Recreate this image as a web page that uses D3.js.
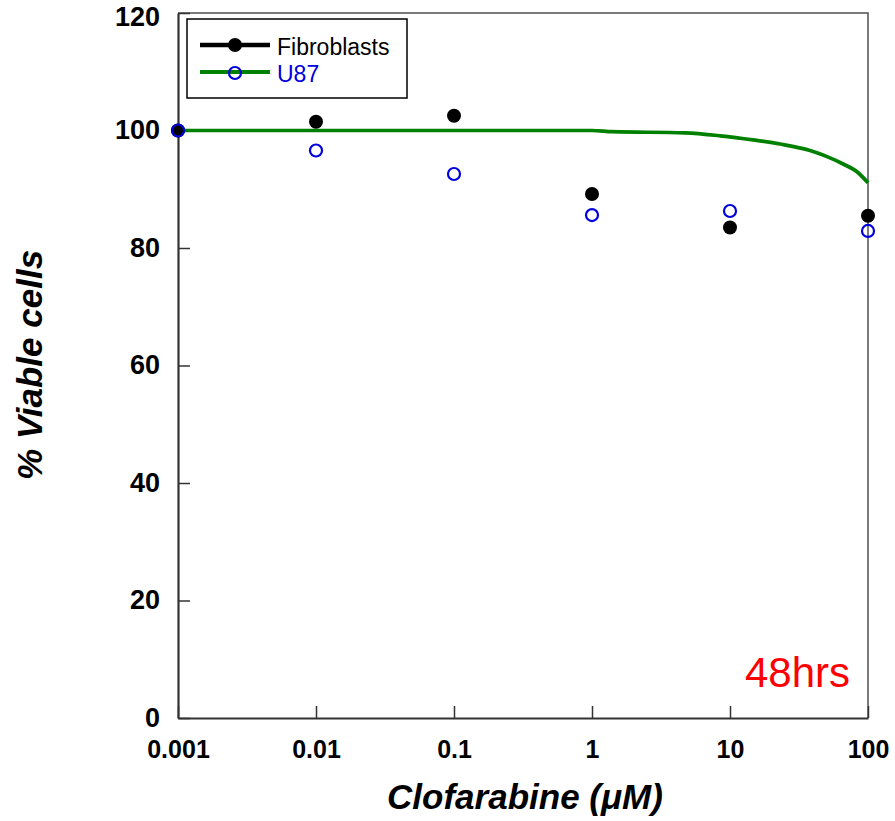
<!DOCTYPE html>
<html>
<head>
<meta charset="utf-8">
<script src="https://cdn.jsdelivr.net/npm/d3@7"></script>
<style>
  body { margin: 0; background: #fff; }
  text { font-family: "Liberation Sans", Arial, sans-serif; }
</style>
</head>
<body>
<div id="chart"></div>
<script>
// measured concentrations (uM) and % viable cells
const concentrations = [0.001, 0.01, 0.1, 1, 10, 100];
const fibroblasts = [100, 101.5, 102.5, 89.2, 83.5, 85.5];
const u87 = [100, 96.6, 92.6, 85.6, 86.3, 82.9];

// fitted curve
const fitConc = [0.001, 0.01, 0.1, 1, 1.4, 4.7, 8.5, 14.7, 23, 38, 50, 66, 84, 100];
const fitValues = [100, 100, 100, 100, 99.8, 99.6, 99.1, 98.4, 97.7, 96.6, 95.6, 94.3, 92.9, 91.1];

const xTickLabels = ["0.001", "0.01", "0.1", "1", "10", "100"];
const yTicks = [0, 20, 40, 60, 80, 100, 120];

const width = 895;
const height = 821;
const margin = { top: 13, right: 27, bottom: 103, left: 178 };

const svg = d3.select("#chart").append("svg")
    .attr("width", width)
    .attr("height", height);

const xScale = d3.scaleLog()
    .domain([0.001, 100])
    .range([margin.left, width - margin.right]);

const yScale = d3.scaleLinear()
    .domain([0, 120])
    .range([height - margin.bottom, margin.top]);

// top and right frame
svg.append("path")
    .attr("d", `M${margin.left},${margin.top}H${width - margin.right}V${height - margin.bottom}`)
    .attr("fill", "none")
    .attr("stroke", "#505050")
    .attr("stroke-width", 1.5);

const xAxis = svg.append("g")
    .attr("transform", `translate(0,${height - margin.bottom})`)
    .call(d3.axisBottom(xScale)
        .tickValues(concentrations)
        .tickFormat((d, i) => xTickLabels[i])
        .tickSizeInner(-12)
        .tickSizeOuter(0)
        .tickPadding(22));

const yAxis = svg.append("g")
    .attr("transform", `translate(${margin.left},0)`)
    .call(d3.axisLeft(yScale)
        .tickValues(yTicks)
        .tickSizeInner(-12)
        .tickSizeOuter(0)
        .tickPadding(18));

[xAxis, yAxis].forEach(g => {
    g.select(".domain").attr("stroke", "#333").attr("stroke-width", 2.2);
    g.selectAll(".tick line").attr("stroke", "#333").attr("stroke-width", 1.5);
    g.selectAll(".tick text")
        .attr("fill", "#000")
        .style("font-weight", "bold");
});
xAxis.selectAll(".tick text").style("font-size", "25px");
yAxis.selectAll(".tick text")
    .style("font-size", "27px")
    .attr("dy", (d) => d === 120 ? "0.45em" : "0.3em");

// fitted curve
const line = d3.line()
    .x((d, i) => xScale(fitConc[i]))
    .y((d) => yScale(d))
    .curve(d3.curveMonotoneX);

svg.append("path")
    .datum(fitValues)
    .attr("fill", "none")
    .attr("stroke", "#008000")
    .attr("stroke-width", 3.7)
    .attr("d", line);

svg.append("g").selectAll("circle")
    .data(fibroblasts)
    .join("circle")
    .attr("cx", (d, i) => xScale(concentrations[i]))
    .attr("cy", (d) => yScale(d))
    .attr("r", 7)
    .attr("fill", "#000");

svg.append("g").selectAll("circle")
    .data(u87)
    .join("circle")
    .attr("cx", (d, i) => xScale(concentrations[i]))
    .attr("cy", (d) => yScale(d))
    .attr("r", 6)
    .attr("fill", "none")
    .attr("stroke", "#0000dd")
    .attr("stroke-width", 2.2);

// legend
const legend = svg.append("g");
legend.append("rect")
    .attr("x", 187).attr("y", 19)
    .attr("width", 220).attr("height", 79)
    .attr("fill", "#fff")
    .attr("stroke", "#000")
    .attr("stroke-width", 1.5);

legend.append("line")
    .attr("x1", 200).attr("x2", 270).attr("y1", 45).attr("y2", 45)
    .attr("stroke", "#000").attr("stroke-width", 4.5);
legend.append("circle")
    .attr("cx", 235).attr("cy", 45).attr("r", 7).attr("fill", "#000");
legend.append("text")
    .attr("x", 277).attr("y", 55)
    .style("font-size", "23px")
    .attr("fill", "#000")
    .text("Fibroblasts");

legend.append("line")
    .attr("x1", 200).attr("x2", 270).attr("y1", 72).attr("y2", 72)
    .attr("stroke", "#008000").attr("stroke-width", 4);
legend.append("circle")
    .attr("cx", 235).attr("cy", 73).attr("r", 6)
    .attr("fill", "none").attr("stroke", "#0000dd").attr("stroke-width", 2.2);
legend.append("text")
    .attr("x", 277).attr("y", 82)
    .style("font-size", "23px")
    .attr("fill", "#0000dd")
    .text("U87");

// axis titles
svg.append("text")
    .attr("x", 525).attr("y", 809)
    .attr("text-anchor", "middle")
    .style("font-size", "35px")
    .style("font-weight", "bold")
    .style("font-style", "italic")
    .text("Clofarabine (\u03bcM)");

svg.append("text")
    .attr("transform", "translate(42,365) rotate(-90)")
    .attr("text-anchor", "middle")
    .style("font-size", "35px")
    .style("font-weight", "bold")
    .style("font-style", "italic")
    .text("% Viable cells");

svg.append("text")
    .attr("x", 745).attr("y", 687)
    .style("font-size", "42px")
    .attr("fill", "#ff0000")
    .text("48hrs");
</script>
</body>
</html>
